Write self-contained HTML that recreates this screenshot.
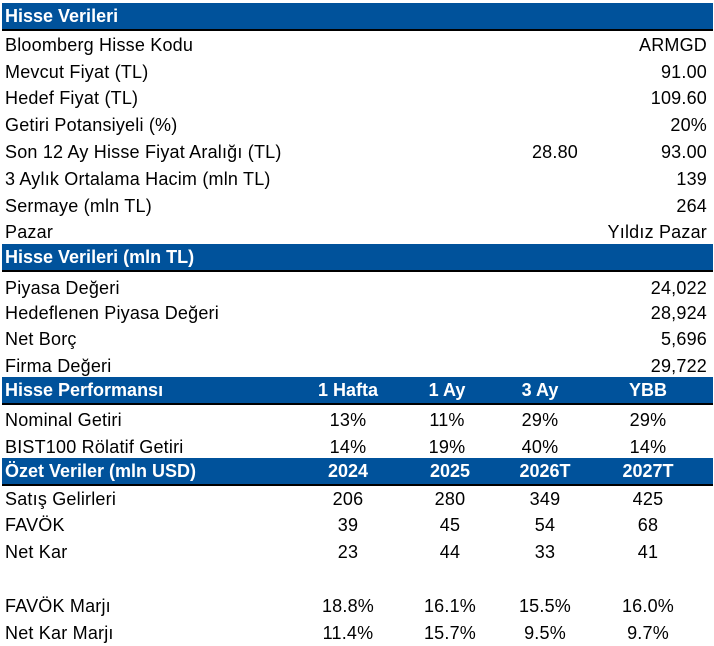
<!DOCTYPE html>
<html><head><meta charset="utf-8"><style>
body{margin:0;width:714px;height:644px;background:#fff;position:relative;overflow:hidden;font-family:"Liberation Sans",sans-serif;font-size:18px;color:#000}
.r{position:absolute;left:0;width:714px;height:26px;line-height:26px;letter-spacing:0.2px}
.b{background:#00529b;color:#fff;font-weight:bold;left:2px;width:711px;border-bottom:2px solid #000;letter-spacing:0}
.r span{position:absolute;white-space:nowrap}
.l{left:5px}
.rt{right:7px}
.c{transform:translateX(-50%)}
</style></head><body>
<div class="r b" style="top:3px"><span class="l" style="left:3px">Hisse Verileri</span></div>
<div class="r" style="top:32px"><span class="l">Bloomberg Hisse Kodu</span><span class="rt">ARMGD</span></div>
<div class="r" style="top:59px"><span class="l">Mevcut Fiyat (TL)</span><span class="rt">91.00</span></div>
<div class="r" style="top:85px"><span class="l">Hedef Fiyat (TL)</span><span class="rt">109.60</span></div>
<div class="r" style="top:112px"><span class="l">Getiri Potansiyeli (%)</span><span class="rt">20%</span></div>
<div class="r" style="top:139px"><span class="l">Son 12 Ay Hisse Fiyat Aralığı (TL)</span><span class="c" style="left:555px">28.80</span><span class="rt">93.00</span></div>
<div class="r" style="top:166px"><span class="l">3 Aylık Ortalama Hacim (mln TL)</span><span class="rt">139</span></div>
<div class="r" style="top:193px"><span class="l">Sermaye (mln TL)</span><span class="rt">264</span></div>
<div class="r" style="top:219px"><span class="l">Pazar</span><span class="rt">Yıldız Pazar</span></div>
<div class="r b" style="top:244px"><span class="l" style="left:3px">Hisse Verileri (mln TL)</span></div>
<div class="r" style="top:275px"><span class="l">Piyasa Değeri</span><span class="rt">24,022</span></div>
<div class="r" style="top:300px"><span class="l">Hedeflenen Piyasa Değeri</span><span class="rt">28,924</span></div>
<div class="r" style="top:326px"><span class="l">Net Borç</span><span class="rt">5,696</span></div>
<div class="r" style="top:353px"><span class="l">Firma Değeri</span><span class="rt">29,722</span></div>
<div class="r b" style="top:377px"><span class="l" style="left:3px">Hisse Performansı</span><span class="c" style="left:346px">1 Hafta</span><span class="c" style="left:445px">1 Ay</span><span class="c" style="left:538px">3 Ay</span><span class="c" style="left:646px">YBB</span></div>
<div class="r" style="top:407px"><span class="l">Nominal Getiri</span><span class="c" style="left:348px">13%</span><span class="c" style="left:447px">11%</span><span class="c" style="left:540px">29%</span><span class="c" style="left:648px">29%</span></div>
<div class="r" style="top:434px"><span class="l">BIST100 Rölatif Getiri</span><span class="c" style="left:348px">14%</span><span class="c" style="left:447px">19%</span><span class="c" style="left:540px">40%</span><span class="c" style="left:648px">14%</span></div>
<div class="r b" style="top:458px"><span class="l" style="left:3px">Özet Veriler (mln USD)</span><span class="c" style="left:346px">2024</span><span class="c" style="left:448px">2025</span><span class="c" style="left:543px">2026T</span><span class="c" style="left:646px">2027T</span></div>
<div class="r" style="top:486px"><span class="l">Satış Gelirleri</span><span class="c" style="left:348px">206</span><span class="c" style="left:450px">280</span><span class="c" style="left:545px">349</span><span class="c" style="left:648px">425</span></div>
<div class="r" style="top:512px"><span class="l">FAVÖK</span><span class="c" style="left:348px">39</span><span class="c" style="left:450px">45</span><span class="c" style="left:545px">54</span><span class="c" style="left:648px">68</span></div>
<div class="r" style="top:539px"><span class="l">Net Kar</span><span class="c" style="left:348px">23</span><span class="c" style="left:450px">44</span><span class="c" style="left:545px">33</span><span class="c" style="left:648px">41</span></div>
<div class="r" style="top:593px"><span class="l">FAVÖK Marjı</span><span class="c" style="left:348px">18.8%</span><span class="c" style="left:450px">16.1%</span><span class="c" style="left:545px">15.5%</span><span class="c" style="left:648px">16.0%</span></div>
<div class="r" style="top:620px"><span class="l">Net Kar Marjı</span><span class="c" style="left:348px">11.4%</span><span class="c" style="left:450px">15.7%</span><span class="c" style="left:545px">9.5%</span><span class="c" style="left:648px">9.7%</span></div>
</body></html>
